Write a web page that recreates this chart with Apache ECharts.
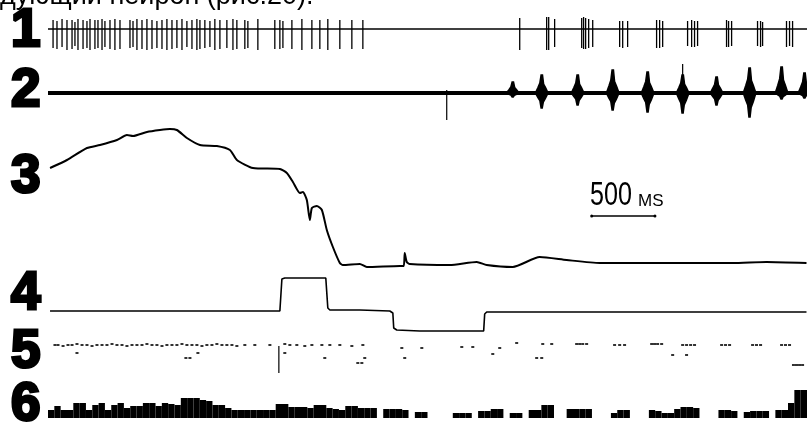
<!DOCTYPE html>
<html><head><meta charset="utf-8">
<script src="https://cdn.jsdelivr.net/npm/echarts@6/dist/echarts.min.js"></script>
<style>html,body{margin:0;padding:0;background:#fff}#c{width:807px;height:424px}</style>
</head><body><div id="c"></div><script>
// time axis in ms (whole record ~6 s)
const timeRange = [0, 6000];
const traceLabels = ['1','2','3','4','5','6'];
const headerText = 'дующий нейрон (рис.20).';
const scaleBarText = '500';
const scaleBarUnit = 'MS';

// Trace 1: unit spikes (time ms, upper tip, lower tip)
const spike1Times = [40,71,111,150,190,213,237,277,308,332,371,395,427,450,490,529,569,648,672,703,743,782,822,861,901,940,980,1019,1059,1098,1138,1177,1201,1240,1280,1319,1359,1414,1462,1493,1556,1580,1659,1793,1833,1857,1928,2007,2086,2149,2212,2307,2402,2489,
  3729,3942,3958,4005,4219,4234,4250,4274,4306,4519,4543,4582,4811,4835,4859,5056,5088,5111,5135,5364,5380,5404,5609,5633,5649,5838,5862,5886];
const spike1Up = [9,8,10,9,9,7,10,9,8,10, 9,9,10,8,9,10,9,9,8,10, 9,10,9,8,9,10,9,9,10,8, 9,10,9,9,8,10,9,9,10,9, 9,8,10,9,9,8,9,10,9,9, 10,9,9,9,
  11,12,12,10,11,12,11,10,9,8, 8,8,9,9,8,8,9,8,8,9, 8,8,8,8,7,8,8,8];
const spike1Down = [-19,-20,-18,-21,-20,-17,-21,-20,-19,-21, -20,-19,-21,-18,-20,-21,-20,-19,-18,-21, -20,-21,-20,-19,-20,-21,-20,-19,-21,-18, -20,-21,-20,-19,-18,-21,-20,-19,-21,-20, -20,-19,-21,-20,-20,-19,-20,-21,-20,-20, -21,-20,-20,-20,
  -21,-21,-21,-18,-19,-20,-20,-19,-18,-18, -19,-18,-19,-19,-18,-17,-18,-18,-17,-18, -18,-17,-17,-18,-17,-18,-17,-18];

// Trace 2: mass activity bursts
const burst2Times = [3674,3903,4187,4464,4740,5017,5285,5546,5799,5980];
const burst2Up = [11,18,18,23,21,18,16,25,26,20];
const burst2Down = [-4,-15,-12,-17,-19,-20,-12,-24,-6,-5];
const spike2Times = [3152,5017];
const spike2Up = [3,29];
const spike2Down = [-27,0];

// Trace 3: slow potential
const trace3Times = [16,150,308,411,545,624,672,782,885,964,1019,1098,1201,1335,1438,1493,1620,1833,1888,1936,1991,2015,2046,2070,2086,2125,2165,2204,2252,2307,2331,2465,2520,2781,2812,2820,2836,2860,3176,3389,3468,3674,3887,4100,4361,4890,5412,5680,5996];
const trace3Values = [102,110,122,125,130,135,134,138,140,141,140,132,125,124,120,110,102,101,97,88,77,78,70,50,62,64,60,40,23,7,5,6,3,4,4,17,8,6,5,8,5,3,13,10,7,7,7,8,7];

// Trace 4: stimulus marker
const trace4Times = [16,1833,1841,1849,1872,2196,2204,2212,2228,2465,2702,2726,2733,2757,2939,3444,3452,3468,5996];
const trace4Values = [24,24,40,56,57,57,55,27,25,25,24,22,7,5,4,4,21,23,23];

// Trace 5: discriminated impulses (dots)
const dot5Times = [55,79,119,158,190,229,269,308,348,387,427,466,506,545,585,624,664,703,743,782,822,861,901,940,980,1019,1059,1098,1138,1177,1217,1256,1296,1335,1375,1414,1454,1493,1556,1635,1754,1872,1912,1967,2030,2086,2165,2228,2307,2402,2489,
  2797,2955,3271,3358,3571,3705,3911,3982,4179,4203,4227,4258,4479,4519,4558,4772,4795,4819,4851,5017,5048,5080,5111,5325,5356,5388,5570,5601,5633,5799,5830,5862,
  229,1090,1122,1185,1872,2188,2449,2481,2504,2820,3516,3863,3903,4938,5048,5893,5917,5941,5965];
const dot5Values = [33,33,32,33,33,34,33,33,32,33,33,33,34,33,33,32,33,33,33,34,33,33,32,33,33,33,34,33,33,33,32,33,33,34,33,33,33,32,33,33,33,34,33,33,32,33,33,33,33,32,33,
  30,30,31,31,30,35,34,34,34,34,34,34,33,33,33,34,34,34,34,33,33,33,33,33,33,33,33,33,33,33,33,33,
  25,20,20,25,25,20,15,15,20,20,24,20,20,23,23,13,13,13,13];
const stimTime = 1825;
const stimRange = [5, 32];

// Trace 6: histogram (bins of 50 ms)
const hist6 = [8,12,8,8,15,15,8,13,15,8, 13,15,10,12,12,15,15,12,15,14, 13,20,20,20,18,17,13,13,10,8,
  8,8,8,8,8,8,14,14,11,11, 11,10,13,13,10,9,8,12,12,10, 10,10,0,9,9,9,8,0,6,6,
  0,0,0,0,5,5,5,0,7,7, 9,9,0,5,5,0,8,8,13,13, 0,0,9,9,9,9,0,0,0,5,
  8,8,0,0,0,8,7,5,5,9, 11,11,10,0,0,0,8,8,7,0, 6,7,7,7,0,8,8,15,28,28];
const hist6Bins = hist6.map((v, i) => i);

// scale bar (ms) drawn in trace-3 coordinates
const scaleBarStart = 4298;
const scaleBarLength = 500;
const scaleBarLevel = 54;

const chart = echarts.init(document.getElementById('c'), null, {renderer: 'canvas'});

const grids = [
  {left: 48, right: 0, top: 14, height: 40},
  {left: 48, right: 0, top: 58, height: 70},
  {left: 48, right: 0, top: 120, height: 155},
  {left: 48, right: 0, top: 270, height: 70},
  {left: 48, right: 0, top: 338, height: 40},
  {left: 48, right: 0, top: 388, height: 30}
];
const yRanges = [[-25,15],[-35,35],[-5,150],[-5,65],[0,40],[0,30]];

const xAxes = grids.map((g, i) => i === 5
  ? {gridIndex: i, type: 'category', data: hist6Bins, show: false, boundaryGap: true}
  : {gridIndex: i, type: 'value', min: timeRange[0], max: timeRange[1], show: false});
const yAxes = yRanges.map((r, i) => ({gridIndex: i, type: 'value', min: r[0], max: r[1], show: false}));

function spikeRender(lw) {
  return function (params, api) {
    const a = api.coord([api.value(0), api.value(1)]);
    const b = api.coord([api.value(0), api.value(2)]);
    return {type: 'line', shape: {x1: a[0], y1: a[1], x2: b[0], y2: b[1]}, style: {stroke: '#000', lineWidth: lw}};
  };
}
function burstRender(params, api) {
  const t = api.value(0), up = api.value(1), dn = api.value(2), w = 50;
  const pts = [[t-w,0],[t-w*0.6,up*0.3],[t-w*0.3,up*0.55],[t-w*0.1,up],[t+w*0.12,up],[t+w*0.3,up*0.5],[t+w*0.6,up*0.3],[t+w,0],
               [t+w*0.6,dn*0.35],[t+w*0.25,dn*0.6],[t+w*0.08,dn],[t-w*0.1,dn],[t-w*0.3,dn*0.5],[t-w*0.6,dn*0.3]].map(p => api.coord(p));
  return {type: 'polygon', shape: {points: pts}, style: {fill: '#000', stroke: '#000', lineWidth: 1.5}};
}

const series = [
  {type: 'line', xAxisIndex: 0, yAxisIndex: 0, data: [[timeRange[0],0],[timeRange[1],0]], symbol: 'none', lineStyle: {color: '#000', width: 1.6}},
  {type: 'custom', xAxisIndex: 0, yAxisIndex: 0, renderItem: spikeRender(1.3), encode: {x: 0, y: [1,2]},
   data: spike1Times.map((t, i) => [t, spike1Up[i], spike1Down[i]])},
  {type: 'line', xAxisIndex: 1, yAxisIndex: 1, data: [[timeRange[0],0],[timeRange[1],0]], symbol: 'none', lineStyle: {color: '#000', width: 4}},
  {type: 'custom', xAxisIndex: 1, yAxisIndex: 1, renderItem: burstRender, encode: {x: 0, y: [1,2]},
   data: burst2Times.map((t, i) => [t, burst2Up[i], burst2Down[i]])},
  {type: 'custom', xAxisIndex: 1, yAxisIndex: 1, renderItem: spikeRender(1.2), encode: {x: 0, y: [1,2]},
   data: spike2Times.map((t, i) => [t, spike2Up[i], spike2Down[i]])},
  {type: 'line', xAxisIndex: 2, yAxisIndex: 2, data: trace3Times.map((t, i) => [t, trace3Values[i]]), symbol: 'none', smooth: 0.2, lineStyle: {color: '#000', width: 2}},
  {type: 'line', xAxisIndex: 2, yAxisIndex: 2, data: [[scaleBarStart, scaleBarLevel],[scaleBarStart + scaleBarLength, scaleBarLevel]],
   symbol: 'circle', symbolSize: 3, itemStyle: {color: '#000'}, lineStyle: {color: '#000', width: 1.4}},
  {type: 'line', xAxisIndex: 3, yAxisIndex: 3, data: trace4Times.map((t, i) => [t, trace4Values[i]]), symbol: 'none', lineStyle: {color: '#000', width: 1.6}},
  {type: 'scatter', xAxisIndex: 4, yAxisIndex: 4, data: dot5Times.map((t, i) => [t, dot5Values[i]]), symbol: 'rect', symbolSize: [3,2], itemStyle: {color: '#000'}},
  {type: 'custom', xAxisIndex: 4, yAxisIndex: 4, renderItem: spikeRender(1.2), encode: {x: 0, y: [1,2]}, data: [[stimTime, stimRange[1], stimRange[0]]]},
  {type: 'bar', xAxisIndex: 5, yAxisIndex: 5, data: hist6, barCategoryGap: '0%', itemStyle: {color: '#000'}}
];

const labelY = [31, 91, 177, 294, 352, 405];
const graphic = traceLabels.map((t, i) => ({
  type: 'text', x: 11, y: labelY[i],
  style: {text: t, font: 'bold 53px "Liberation Sans", Arial, sans-serif', fill: '#000', stroke: '#000', lineWidth: 3, verticalAlign: 'middle'}
}));
graphic.push({type: 'text', x: 0, y: -3, style: {text: headerText, font: '27px "Liberation Sans", Arial, sans-serif', fill: '#000', verticalAlign: 'middle'}});
graphic.push({type: 'text', x: 590, y: 196, scaleX: 0.74, style: {text: scaleBarText, font: '34px "Liberation Sans", Arial, sans-serif', fill: '#000', verticalAlign: 'middle'}});
graphic.push({type: 'text', x: 638, y: 201, style: {text: scaleBarUnit, font: '17px "Liberation Sans", Arial, sans-serif', fill: '#000', verticalAlign: 'middle'}});

chart.setOption({
  animation: false,
  backgroundColor: '#fff',
  grid: grids,
  xAxis: xAxes,
  yAxis: yAxes,
  series: series,
  graphic: graphic
});
</script></body></html>
